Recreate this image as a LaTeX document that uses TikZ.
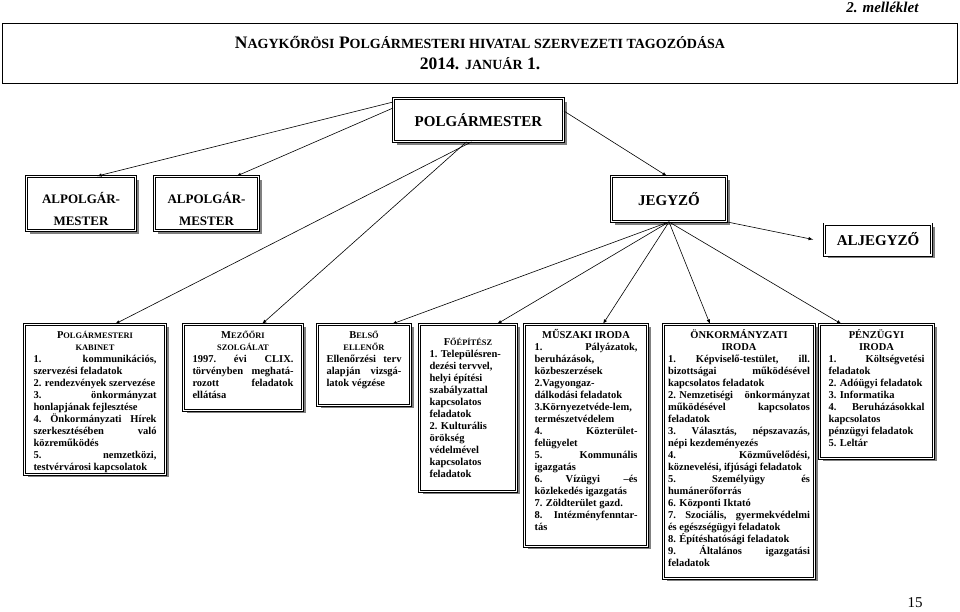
\documentclass[tikz,border=0pt]{standalone}
\usepackage{graphicx}
\usepackage{fontspec}
\setmainfont{Liberation Serif}
\usetikzlibrary{shadows}

\newcommand\ksc[1]{\scalebox{0.8}{#1}}

\begin{document}
\begin{tikzpicture}[
    x=1pt, y=-1pt,
    box/.style={
        draw,
        line width=0.8pt,
        double,
        double distance=1.4pt,
        fill=white,
        drop shadow={shadow xshift=3pt, shadow yshift=-3pt, fill=black!50, opacity=1}
    },
    lead/.style={
        box,
        inner sep=0pt,
        align=center,
        font=\fontsize{15}{22}\selectfont\bfseries
    },
    unit/.style={
        box,
        anchor=north,
        inner ysep=5pt,
        text height=9pt,
        align=flush left,
        font=\fontsize{10.5}{12}\selectfont\bfseries
    },
    >=latex
]
\useasboundingbox (0,0) rectangle (960,611);

% Header
\node[anchor=east, font=\fontsize{15}{17}\selectfont\bfseries\itshape] (mell) at (922,7)
{2. melléklet};

\node[draw, line width=0.8pt, minimum width=955pt, minimum height=60pt, inner sep=0pt,
      align=center, font=\fontsize{17.5}{21}\selectfont\bfseries] (cim) at (480,53.5)
{N\ksc{AGYKŐRÖSI} P\ksc{OLGÁRMESTERI HIVATAL SZERVEZETI TAGOZÓDÁSA}\\
2014. \ksc{JANUÁR} 1.};

% Leaders
\node[lead, minimum width=170pt, minimum height=43pt] (polg) at (478.5,120)
{POLGÁRMESTER};

\node[lead, minimum width=109pt, minimum height=54pt, font=\fontsize{13}{22}\selectfont\bfseries] (alpolg_a) at (81,203.5)
{\rule{0pt}{23pt}ALPOLGÁR-\\MESTER};

\node[lead, minimum width=104pt, minimum height=54pt, font=\fontsize{13}{22}\selectfont\bfseries] (alpolg_b) at (206.5,203.5)
{\rule{0pt}{23pt}ALPOLGÁR-\\MESTER};

\node[lead, minimum width=115pt, minimum height=45pt] (jegyzo) at (669,199)
{JEGYZŐ};

\node[lead, minimum width=107pt, minimum height=31pt] (aljegyzo) at (878,239.5)
{ALJEGYZŐ};

% Units
\node[unit, text width=123pt, inner xsep=9pt, text depth=131pt] (kabinet) at (95,324)
{
\hfill P\ksc{OLGÁRMESTERI}\hfill\null\\
\hfill\ksc{KABINET}\hfill\null\\
1.\hfill kommunikációs,\\
szervezési feladatok\\
2. rendezvények szervezése\\
3.\hfill önkormányzat\\
honlapjának fejlesztése\\
4.\hfill Önkormányzati\hfill Hírek\\
szerkesztésében\hfill való\\
közreműködés\\
5.\hfill nemzetközi,\\
testvérvárosi kapcsolatok
};

\node[unit, text width=101pt, inner xsep=9pt, text depth=67pt] (mezoor) at (243,324)
{
\hfill M\ksc{EZŐŐRI}\hfill\null\\
\hfill\ksc{SZOLGÁLAT}\hfill\null\\
1997.\hfill évi\hfill CLIX.\\
törvényben\hfill meghatá-\\
rozott\hfill feladatok\\
ellátása
};

\node[unit, text width=75pt, inner xsep=9pt, text depth=62pt] (belso) at (364,324)
{
\hfill B\ksc{ELSŐ}\hfill\null\\
\hfill\ksc{ELLENŐR}\hfill\null\\
Ellenőrzési\hfill terv\\
alapján\hfill vizsgá-\\
latok végzése
};

\node[unit, text width=77pt, inner xsep=10pt, text height=16pt, text depth=141pt] (foep) at (468,324)
{
\hfill F\ksc{ŐÉPÍTÉSZ}\hfill\null\\
1. Településren-\\
dezési tervvel,\\
helyi építési\\
szabályzattal\\
kapcsolatos\\
feladatok\\
2. Kulturális\\
örökség\\
védelmével\\
kapcsolatos\\
feladatok
};

\node[unit, text width=103pt, inner xsep=10pt, text depth=203pt] (muszaki) at (586,324)
{
\hfill MŰSZAKI IRODA\hfill\null\\
1.\hfill Pályázatok,\\
beruházások,\\
közbeszerzések\\
2.Vagyongaz-\\
dálkodási feladatok\\
3.Környezetvéde-lem,\\
természetvédelem\\
4.\hfill Közterület-\\
felügyelet\\
5.\hfill Kommunális\\
igazgatás\\
6.\hfill Vízügyi\hfill –és\\
közlekedés igazgatás\\
7. Zöldterület gazd.\\
8.\hfill Intézményfenntar-\\
tás
};

\node[unit, text width=142pt, inner xsep=4.5pt, text depth=235pt] (onkorm) at (739,324)
{
\hfill ÖNKORMÁNYZATI\hfill\null\\
\hfill IRODA\hfill\null\\
1.\hfill Képviselő-testület,\hfill ill.\\
bizottságai\hfill működésével\\
kapcsolatos feladatok\\
2. Nemzetiségi\hfill önkormányzat\\
működésével\hfill kapcsolatos\\
feladatok\\
3.\hfill Választás,\hfill népszavazás,\\
népi kezdeményezés\\
4.\hfill Közművelődési,\\
köznevelési, ifjúsági feladatok\\
5.\hfill Személyügy\hfill és\\
humánerőforrás\\
6. Központi Iktató\\
7.\hfill Szociális,\hfill gyermekvédelmi\\
és egészségügyi feladatok\\
8. Építéshatósági feladatok\\
9.\hfill Általános\hfill igazgatási\\
feladatok
};

\node[unit, text width=96pt, inner xsep=9pt, text depth=115pt] (penzugy) at (876.5,324)
{
\hfill PÉNZÜGYI\hfill\null\\
\hfill IRODA\hfill\null\\
1.\hfill Költségvetési\\
feladatok\\
2. Adóügyi feladatok\\
3. Informatika\\
4.\hfill Beruházásokkal\\
kapcsolatos\\
pénzügyi feladatok\\
5. Leltár
};

% Footer
\node[font=\fontsize{15}{17}\selectfont] (oldal) at (915,603)
{15};

% Connections
\draw[->,line width=0.6pt] ([yshift=18pt]polg.west) -- ([xshift=16pt]alpolg_a.north);
\draw[->,line width=0.6pt] ([yshift=12pt]polg.west) -- ([xshift=30pt]alpolg_b.north);
\draw[->,line width=0.6pt] ([xshift=-7pt]polg.south) -- ([xshift=20pt]kabinet.north);
\draw[->,line width=0.6pt] ([xshift=-12pt]polg.south) -- ([xshift=19pt]mezoor.north);
\draw[->,line width=0.6pt] ([yshift=9pt]polg.east) -- ([xshift=-2pt]jegyzo.north);

\draw[->,line width=0.6pt] (jegyzo.south) -- ([xshift=28pt]belso.north);
\draw[->,line width=0.6pt] (jegyzo.south) -- ([xshift=29pt]foep.north);
\draw[->,line width=0.6pt] (jegyzo.south) -- ([xshift=17pt]muszaki.north);
\draw[->,line width=0.6pt] (jegyzo.south) -- ([xshift=-29pt]onkorm.north);
\draw[->,line width=0.6pt] (jegyzo.south) -- ([xshift=-35pt]penzugy.north);
\draw[->,line width=0.6pt] (jegyzo.south east) -- ([xshift=-11pt]aljegyzo.west);

\end{tikzpicture}
\end{document}
